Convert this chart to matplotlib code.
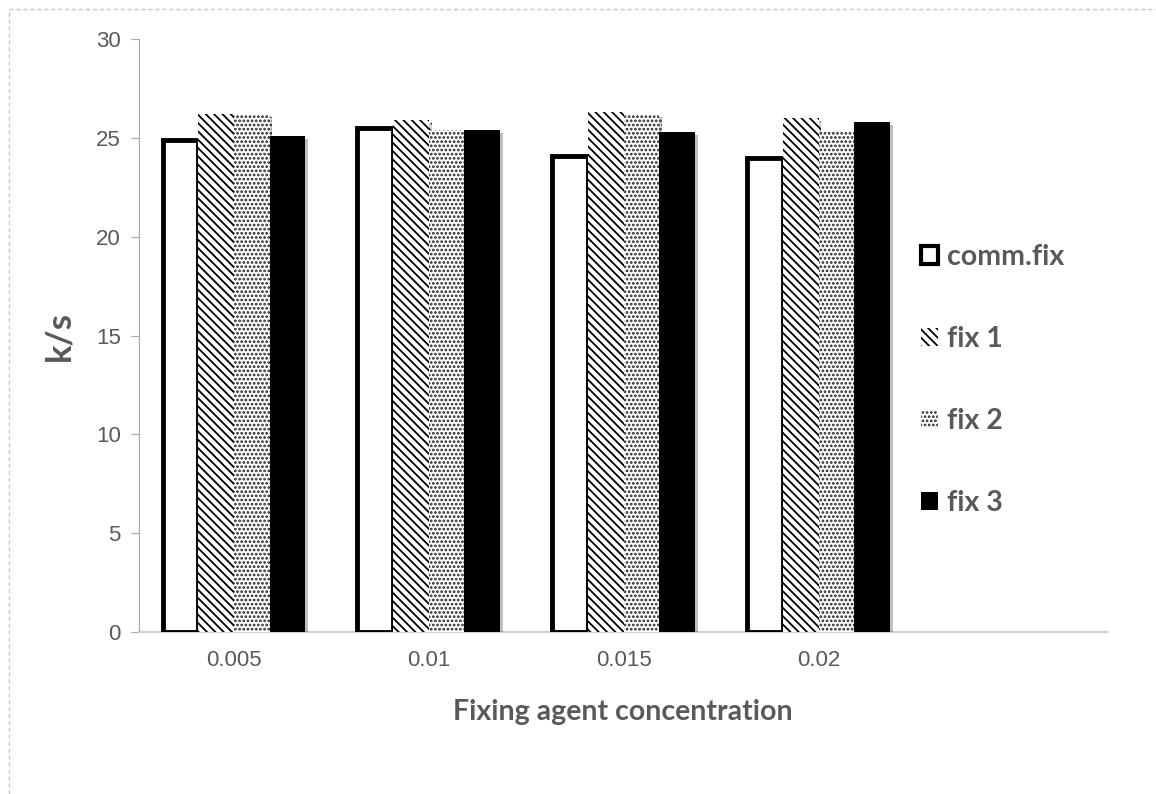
import numpy as np
import matplotlib
matplotlib.use('Agg')
import matplotlib.pyplot as plt
import matplotlib.patheffects as pe
from matplotlib.lines import Line2D

# ------------------------------------------------------------
#  数据
# ------------------------------------------------------------
concentrations = ['0.005', '0.01', '0.015', '0.02']
series_names = ['comm.fix', 'fix 1', 'fix 2', 'fix 3']
comm_fix = [24.9, 25.5, 24.1, 24.0]
fix_1 = [26.2, 25.9, 26.3, 26.0]
fix_2 = [26.2, 25.4, 26.2, 25.3]
fix_3 = [25.1, 25.4, 25.3, 25.8]

y_ticks = [0, 5, 10, 15, 20, 25, 30]

plt.rcParams['hatch.linewidth'] = 1.3
grey_txt = '#595959'
hatch_diag = '\\\\\\\\'
hatch_dots = '....'

fig = plt.figure(figsize=(11.56, 7.94), dpi=100)
ax = fig.add_axes([0.1202, 0.204, 0.8374, 0.7469])

x = np.arange(len(concentrations))
w = 0.183
offsets = np.array([-1.5, -0.5, 0.5, 1.5]) * w
shadow = [pe.SimplePatchShadow(offset=(2, -2), alpha=0.25), pe.Normal()]

styles = [
    dict(color='white', edgecolor='black', linewidth=3.5),
    dict(color='white', edgecolor='black', hatch=hatch_diag, linewidth=0),
    dict(color='white', edgecolor='#222222', hatch=hatch_dots, linewidth=0),
    dict(color='black', edgecolor='black', linewidth=0),
]
for vals, off, st, name in zip([comm_fix, fix_1, fix_2, fix_3], offsets, styles, series_names):
    bars = ax.bar(x + off, vals, w, label=name, zorder=3, **st)
    for b in bars:
        b.set_path_effects(shadow)

ax.set_xlim(-0.487, 4.48)
ax.set_ylim(0, 30)
ax.set_yticks(y_ticks)
ax.set_xticks(x)
ax.set_xticklabels(concentrations, fontsize=16, color=grey_txt, family='Liberation Sans')
ax.set_yticklabels([str(v) for v in y_ticks], fontsize=16, color=grey_txt, family='Liberation Sans')
ax.tick_params(axis='x', length=0, pad=13)
ax.tick_params(axis='y', length=6, color='#a6a6a6', pad=7)

for s in ['top', 'right']:
    ax.spines[s].set_visible(False)
ax.spines['left'].set_color('#a6a6a6')
ax.spines['bottom'].set_color('#d0d0d0')
ax.spines['bottom'].set_linewidth(1.5)

ax.set_xlabel('Fixing agent concentration', fontsize=20.5, color=grey_txt,
              fontweight='bold', family='Lato', labelpad=20)
ax.set_ylabel('k/s', fontsize=25, color=grey_txt, fontweight='bold',
              family='Lato', labelpad=15)

# 图例
handle_list = [
    plt.Rectangle((0, 0), 1, 1, facecolor='white', edgecolor='black', linewidth=3),
    plt.Rectangle((0, 0), 1, 1, facecolor='white', edgecolor='black', hatch=hatch_diag, linewidth=0),
    plt.Rectangle((0, 0), 1, 1, facecolor='white', edgecolor='#222222', hatch=hatch_dots, linewidth=0),
    plt.Rectangle((0, 0), 1, 1, facecolor='black', edgecolor='black', linewidth=0),
]
leg = ax.legend(handle_list, series_names, loc='upper left',
                bbox_to_anchor=(0.808, 0.655), frameon=False,
                prop=dict(family='Lato', weight='bold', size=20.5),
                handlelength=0.6, handleheight=0.6, handletextpad=0.3,
                labelspacing=1.97, borderaxespad=0, borderpad=0)
for t in leg.get_texts():
    t.set_color(grey_txt)

# 外框虚线 (上、左)
fig.add_artist(Line2D([9 / 1156, 1.0], [1 - 9 / 794, 1 - 9 / 794], color='#c8c8c8',
                      linestyle=(0, (3, 2)), linewidth=1))
fig.add_artist(Line2D([9 / 1156, 9 / 1156], [0, 1 - 9 / 794], color='#c8c8c8',
                      linestyle=(0, (3, 2)), linewidth=1))

fig.savefig('out.png', dpi=100)
